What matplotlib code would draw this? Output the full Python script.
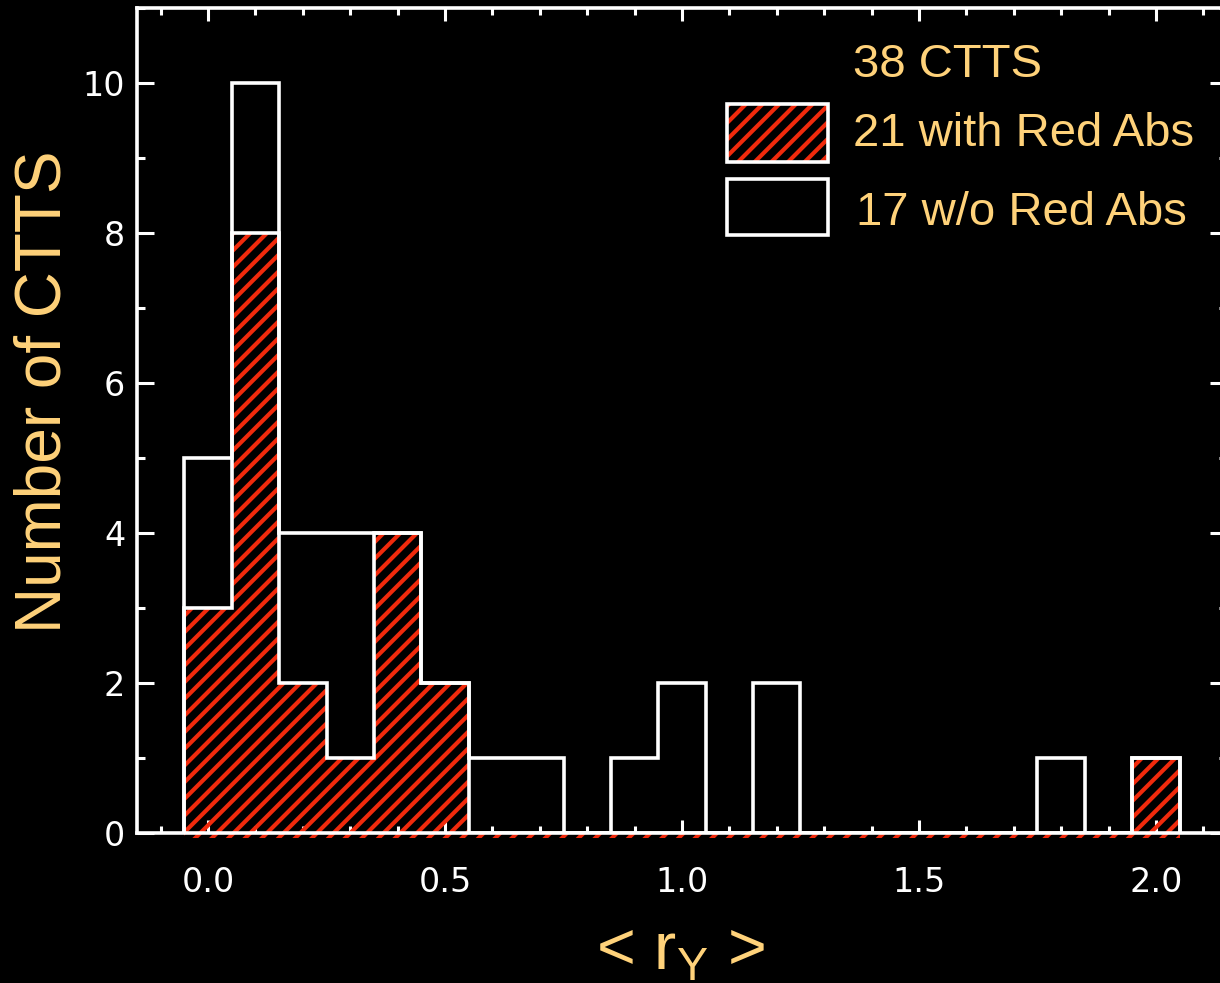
import matplotlib
matplotlib.use("Agg")
import matplotlib.pyplot as plt
from matplotlib.patches import Rectangle
from matplotlib.ticker import MultipleLocator, FormatStrFormatter
import numpy as np

# Histogram of <r_Y> for the CTTS sample, bins of width 0.1 centred on these values
bin_centers = [0.0, 0.1, 0.2, 0.3, 0.4, 0.5, 0.6, 0.7, 0.8, 0.9, 1.0,
               1.1, 1.2, 1.3, 1.4, 1.5, 1.6, 1.7, 1.8, 1.9, 2.0]
with_red_abs = [3, 8, 2, 1, 4, 2, 0, 0, 0, 0, 0,
                0, 0, 0, 0, 0, 0, 0, 0, 0, 1]
without_red_abs = [2, 2, 2, 3, 0, 0, 1, 1, 0, 1, 2,
                   0, 2, 0, 0, 0, 0, 0, 1, 0, 0]
bin_width = 0.1

ORANGE = "#FFD27A"
RED = "#F02A0C"
TEXT_FONT = ["Liberation Sans", "DejaVu Sans"]

plt.rcParams["hatch.linewidth"] = 3.0

centers = np.array(bin_centers)
edges = np.append(centers - bin_width / 2, centers[-1] + bin_width / 2)
with_red = np.array(with_red_abs)
total = with_red + np.array(without_red_abs)

W, H = 1220, 983
fig = plt.figure(figsize=(W / 100, H / 100), dpi=100, facecolor="black")
ax = fig.add_axes([137 / W, 150 / H, 1090 / W, 825 / H])
ax.set_facecolor("black")
ax.set_xlim(-0.15, 2.15)
ax.set_ylim(0, 11)

# red hatched histogram of stars with red absorption
ax.stairs(with_red, edges, fill=True, hatch="//", facecolor="none",
          edgecolor=RED, linewidth=0, baseline=0, zorder=2)
# the polygon fill spills a little below the baseline over the whole bin range
ax.add_patch(Rectangle((edges[0], -0.06), edges[-1] - edges[0], 0.06,
                       facecolor="none", edgecolor=RED, hatch="//", linewidth=0,
                       clip_on=False, zorder=1))
# white outlines: whole sample and the red-absorption subset
ax.stairs(total, edges, color="white", linewidth=2.6, baseline=0, zorder=3)
ax.stairs(with_red, edges, color="white", linewidth=2.6, baseline=0, zorder=3)

for sp in ax.spines.values():
    sp.set_color("white")
    sp.set_linewidth(2.6)
    sp.set_zorder(4)

ax.xaxis.set_major_locator(MultipleLocator(0.5))
ax.xaxis.set_minor_locator(MultipleLocator(0.1))
ax.yaxis.set_major_locator(MultipleLocator(2))
ax.yaxis.set_minor_locator(MultipleLocator(1))
ax.xaxis.set_major_formatter(FormatStrFormatter("%.1f"))
ax.yaxis.set_major_formatter(FormatStrFormatter("%d"))

ax.tick_params(which="both", direction="in", top=True, right=True,
               colors="white", width=2.2)
ax.tick_params(axis="x", which="major", length=9.5, pad=24, labelsize=24)
ax.tick_params(axis="x", which="minor", length=5)
ax.tick_params(axis="y", which="major", length=12.5, pad=8.5, labelsize=24)
ax.tick_params(axis="y", which="minor", length=6)

# legend drawn by hand
def fx(px):
    return px / W

def fy(py):
    return 1 - py / H

fig.add_artist(Rectangle((fx(727), fy(162)), 101 / W, 58 / H, transform=fig.transFigure,
                         facecolor="none", edgecolor=RED, hatch="//", linewidth=0))
fig.add_artist(Rectangle((fx(727), fy(162)), 101 / W, 58 / H, transform=fig.transFigure,
                         facecolor="none", edgecolor="white", linewidth=2.6))
fig.add_artist(Rectangle((fx(727), fy(235)), 101 / W, 56 / H, transform=fig.transFigure,
                         facecolor="none", edgecolor="white", linewidth=2.6))

n_all = int(total.sum())
n_red = int(with_red.sum())
n_nored = n_all - n_red
fig.text(fx(853), fy(77), f"{n_all} CTTS", fontsize=34, color=ORANGE,
         family=TEXT_FONT, va="baseline")
fig.text(fx(853), fy(146), f"{n_red} with Red Abs", fontsize=34, color=ORANGE,
         family=TEXT_FONT, va="baseline")
fig.text(fx(856), fy(225), f"{n_nored} w/o Red Abs", fontsize=34, color=ORANGE,
         family=TEXT_FONT, va="baseline")

# axis titles
fig.text(fx(44), fy(392), "Number of CTTS", rotation=90, ha="center", va="center",
         fontsize=46, color=ORANGE, family=TEXT_FONT)
fig.text(fx(681), fy(970), r"< r$_\mathregular{Y}$ >", ha="center", va="baseline",
         fontsize=48, color=ORANGE, family=TEXT_FONT)

fig.savefig("out.png", dpi=100, facecolor="black")
